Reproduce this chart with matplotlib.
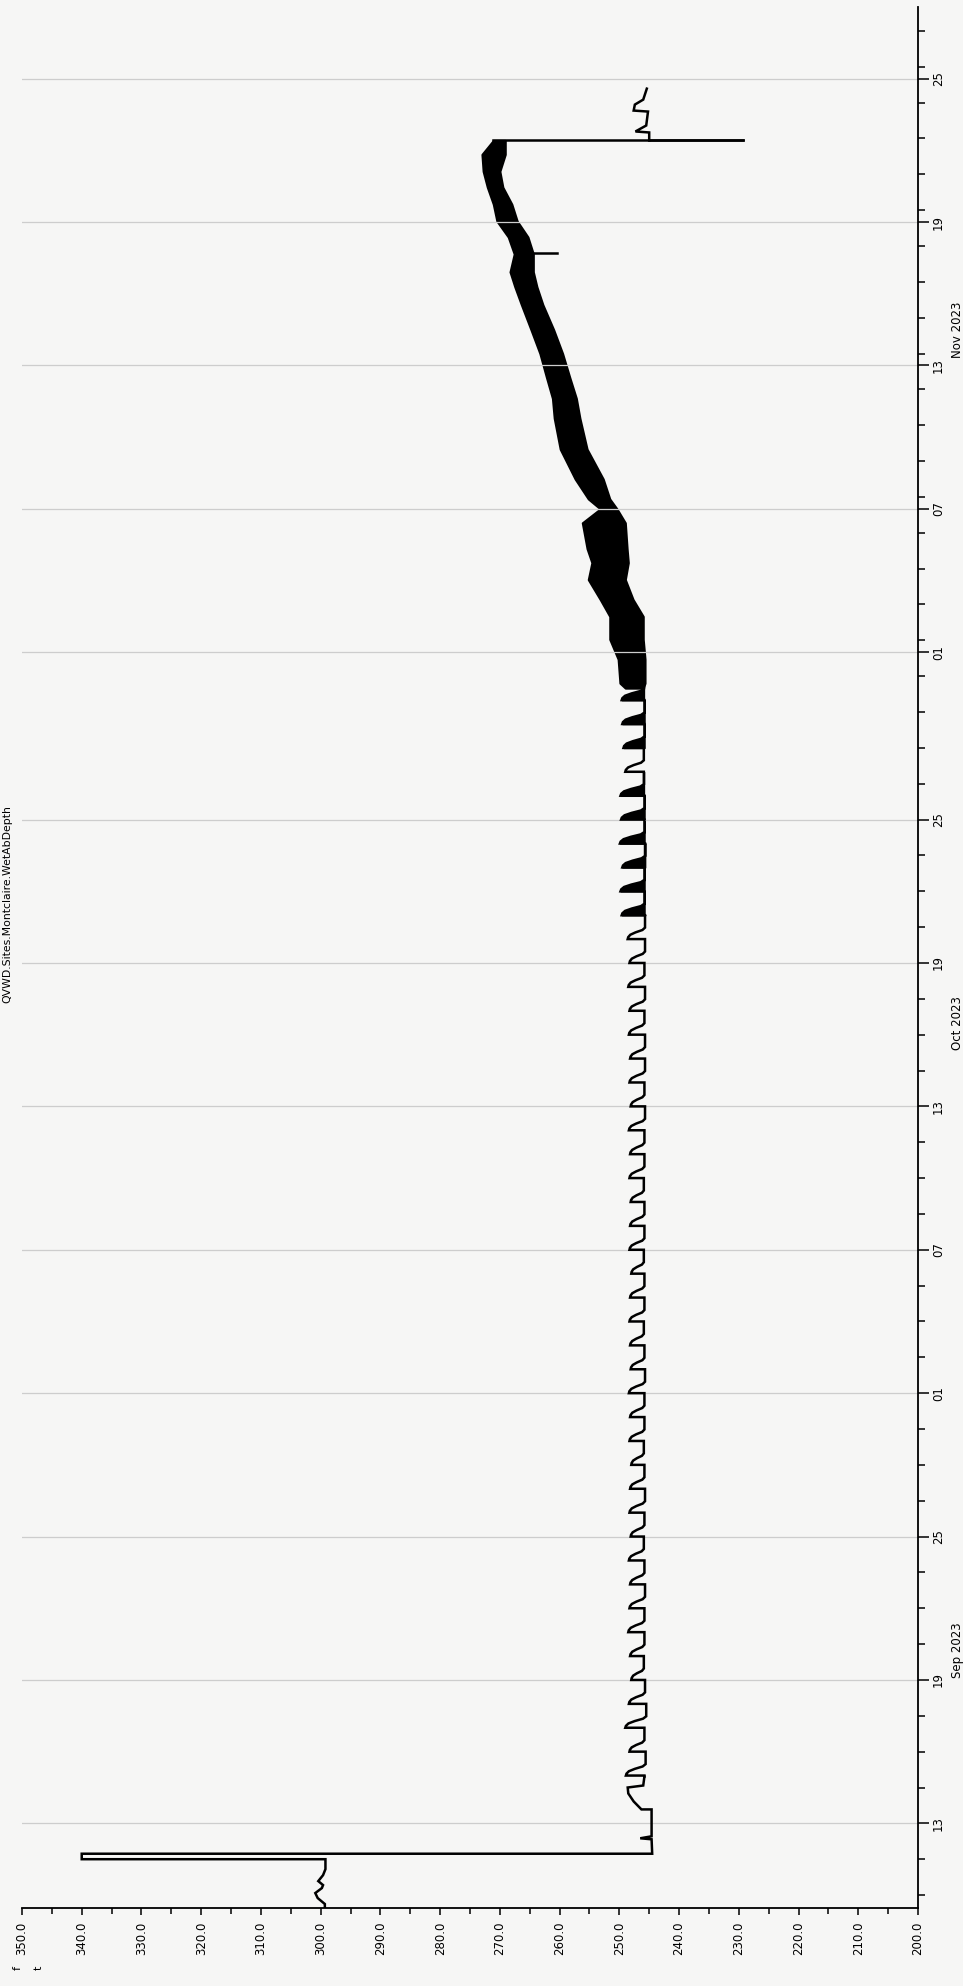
import numpy as np
import pandas as pd
import matplotlib
matplotlib.use('Agg')
import matplotlib.pyplot as plt
import matplotlib.dates as mdates

# axis ticks (values run along the bottom, reversed; dates run up the right side)
value_ticks = [350.0, 340.0, 330.0, 320.0, 310.0, 300.0, 290.0, 280.0,
               270.0, 260.0, 250.0, 240.0, 230.0, 220.0, 210.0, 200.0]
date_ticks = ['2023-09-13', '2023-09-19', '2023-09-25', '2023-10-01', '2023-10-07',
              '2023-10-13', '2023-10-19', '2023-10-25', '2023-11-01', '2023-11-07',
              '2023-11-13', '2023-11-19', '2023-11-25']
date_labels = ['13', '19', '25', '01', '07', '13', '19', '25', '01', '07', '13', '19', '25']
month_labels = ['Sep 2023', 'Oct 2023', 'Nov 2023']
month_mid = ['2023-09-20 06:00', '2023-10-16 12:00', '2023-11-14 12:00']
tag_name = 'QVWD.Sites.Montclaire.WetAbDepth'

# start of record: level near 300, short spike to 340, then drop to ~245
start_time = ['2023-09-09 11:00', '2023-09-09 15:00', '2023-09-09 21:00', '2023-09-10 02:00',
              '2023-09-10 07:00', '2023-09-10 10:00', '2023-09-10 14:00', '2023-09-10 20:00',
              '2023-09-11 02:00', '2023-09-11 12:00', '2023-09-11 12:00', '2023-09-11 17:30',
              '2023-09-11 17:30', '2023-09-12 08:00', '2023-09-12 09:00', '2023-09-12 11:00',
              '2023-09-13 14:00', '2023-09-13 14:00', '2023-09-13 22:00', '2023-09-14 06:00',
              '2023-09-14 12:00', '2023-09-14 14:00', '2023-09-14 23:00']
start_value = [299.3, 299.3, 300.5, 300.9, 299.8, 299.6, 300.4, 299.6,
               299.2, 299.2, 340.0, 340.0,
               244.5, 244.6, 246.5, 244.6,
               244.6, 246.3, 247.6, 248.5,
               248.6, 246.0, 245.8]

# daily cycles Sep 15 - Oct 30: level of each refill (high) and where it settles (low)
cycle_start = '2023-09-15 00:00'
cycle_high = [248.9, 248.3, 249.0, 248.4,
              248.0, 248.2, 248.5, 248.3, 248.2, 248.4, 248.1, 248.3, 248.2, 248.0, 248.3, 248.2,
              248.4, 248.1, 248.2, 248.3, 248.2, 248.0, 248.3, 248.2, 248.1, 248.3,
              248.2, 248.4, 248.1, 248.3, 248.2, 248.4, 248.3, 248.5, 248.3, 248.6,
              249.6, 249.8, 249.5, 249.9, 249.7, 249.8,
              249.0, 249.3, 249.5, 249.6]
cycle_low = [245.6, 245.8, 245.5, 245.7,
             245.9, 245.8, 245.8, 245.7, 245.8, 245.9, 245.8, 245.7, 245.8, 245.9, 245.8, 245.8,
             245.7, 245.8, 245.9, 245.8, 245.8, 245.9, 245.8, 245.8, 245.9, 245.8,
             245.8, 245.7, 245.8, 245.7, 245.7, 245.8, 245.7, 245.8, 245.7, 245.7,
             245.8, 245.8, 245.7, 245.8, 245.8, 245.9,
             245.9, 245.8, 245.8, 245.9]
filled_cycles = ['2023-10-21', '2023-10-22', '2023-10-23', '2023-10-24', '2023-10-25',
                 '2023-10-26', '2023-10-28', '2023-10-29', '2023-10-30']

# dense band Oct 30 - Nov 22: outer edges of the trace
band_time = ['2023-10-30 12:00', '2023-10-30 17:00', '2023-10-31 17:00', '2023-11-01 13:00',
             '2023-11-02 12:00', '2023-11-03 05:00', '2023-11-04 01:00', '2023-11-04 18:00',
             '2023-11-05 08:00', '2023-11-06 10:00', '2023-11-07 00:00', '2023-11-07 10:00',
             '2023-11-08 06:00', '2023-11-09 12:00', '2023-11-10 19:00', '2023-11-11 15:00',
             '2023-11-12 12:00', '2023-11-13 12:00', '2023-11-14 12:00', '2023-11-15 13:00',
             '2023-11-16 07:00', '2023-11-16 22:00', '2023-11-17 16:00', '2023-11-18 09:00',
             '2023-11-19 01:00', '2023-11-19 18:00', '2023-11-20 11:00', '2023-11-21 03:00',
             '2023-11-21 20:00', '2023-11-22 10:00']
band_high = [249.0, 249.9, 250.2, 251.6, 251.6, 253.2, 255.2, 254.6, 255.4, 256.2,
             253.2, 255.2, 257.4, 259.9, 260.9, 261.2, 262.2, 263.3, 264.8, 266.4,
             267.5, 268.3, 267.6, 268.6, 270.5, 271.1, 272.1, 272.8, 273.0, 271.1]
band_low = [246.0, 245.7, 245.7, 246.0, 246.0, 247.7, 249.0, 248.5, 248.7, 249.0,
            250.4, 251.6, 252.7, 255.4, 256.6, 257.2, 258.3, 259.5, 261.0, 262.8,
            263.8, 264.4, 264.4, 265.3, 267.1, 268.0, 269.5, 270.0, 269.1, 269.1]

# single dips out of the band
dip_time = ['2023-11-17 17:00', '2023-11-22 10:00']
dip_from = [265.4, 271.1]
dip_to = [260.4, 229.3]

# end of record after the dip
end_time = ['2023-11-22 10:00', '2023-11-22 18:00', '2023-11-22 19:00', '2023-11-23 01:00',
            '2023-11-23 15:00', '2023-11-23 16:00', '2023-11-23 22:00', '2023-11-24 03:00',
            '2023-11-24 14:00']
end_value = [245.0, 245.0, 247.3, 245.5, 245.2, 247.6, 247.4, 246.0, 245.4]


def num(t):
    return mdates.date2num(pd.to_datetime(t))


# build the daily cycle path from the highs and lows (jump up, hold, then ease back down)
t0 = num(cycle_start)
saw_t = [num(start_time[-1])]
saw_v = [start_value[-1]]
cycles = []
prev_low = start_value[-1]
for i in range(len(cycle_high)):
    ti = t0 + i
    hi, lo = cycle_high[i], cycle_low[i]
    r = hi - lo
    pts_t = [ti, ti, ti + 0.08, ti + 0.18, ti + 0.28, ti + 0.38, ti + 0.48, ti + 1.0]
    pts_v = [prev_low, hi, hi - 0.03 * r, hi - 0.15 * r, hi - 0.45 * r, lo + 0.15 * r, lo, lo]
    saw_t += pts_t
    saw_v += pts_v
    cycles.append((ti, pts_t, pts_v, lo))
    prev_low = lo

fig = plt.figure(figsize=(9.63, 19.86), dpi=100)
fig.patch.set_facecolor('#f6f6f5')
ax = fig.add_axes([22 / 963, 78 / 1986, 896 / 963, 1901 / 1986])
ax.set_facecolor('#f6f6f5')

line_kw = dict(color='black', lw=1.8, solid_joinstyle='miter')

ax.plot(start_value, num(start_time), **line_kw)
ax.plot(saw_v, saw_t, **line_kw)
filled = set(num(filled_cycles))
for ti, pts_t, pts_v, lo in cycles:
    if ti in filled:
        ax.fill_betweenx(pts_t, pts_v, lo, color='black', lw=1.2)

ax.fill_betweenx(num(band_time), band_low, band_high, color='black', lw=1.5, edgecolor='black')
for t, a, b in zip(num(dip_time), dip_from, dip_to):
    ax.plot([a, b], [t, t], **line_kw)
ax.plot([229.3, 245.0], [num(dip_time[1])] * 2, **line_kw)
ax.plot(end_value, num(end_time), **line_kw)

# axes
ax.set_xlim(350, 200)
ax.set_ylim(num('2023-09-09 11:00'), num('2023-11-28 00:00'))
for s in ['left', 'top']:
    ax.spines[s].set_visible(False)
for s in ['bottom', 'right']:
    ax.spines[s].set_linewidth(1.3)

ax.set_xticks(value_ticks)
ax.set_xticklabels(['%.1f' % v for v in value_ticks], rotation=90, fontsize=8.5)
ax.set_xticks(np.arange(345, 200, -10), minor=True)
ax.tick_params(axis='x', which='major', length=5, width=1.1, pad=5)
ax.tick_params(axis='x', which='minor', length=4, width=1.1)

ax.yaxis.tick_right()
ax.set_yticks(num(date_ticks))
ax.set_yticklabels(date_labels, rotation=90, fontsize=8.5, va='center')
minor_dates = np.arange(num('2023-09-10 00:00'), num('2023-11-28 00:00'), 1.5)
ax.set_yticks(minor_dates, minor=True)
ax.tick_params(axis='y', which='major', length=8, width=1.1, pad=2)
ax.tick_params(axis='y', which='minor', length=5, width=1.1)
ax.grid(axis='y', which='major', color='#cdcdcd', lw=0.9)

for lab, t in zip(month_labels, num(month_mid)):
    ax.text(1.0445, t, lab, transform=ax.get_yaxis_transform(), rotation=90,
            fontsize=8.5, ha='center', va='center')

fig.text(0.008, 0.545, tag_name, rotation=90, fontsize=7.8, ha='center', va='center')
fig.text(0.018, 0.009, 'f', rotation=90, fontsize=8, ha='center', va='center')
fig.text(0.040, 0.009, 't', rotation=90, fontsize=8, ha='center', va='center')

fig.savefig('out.png', dpi=100, facecolor=fig.get_facecolor())
